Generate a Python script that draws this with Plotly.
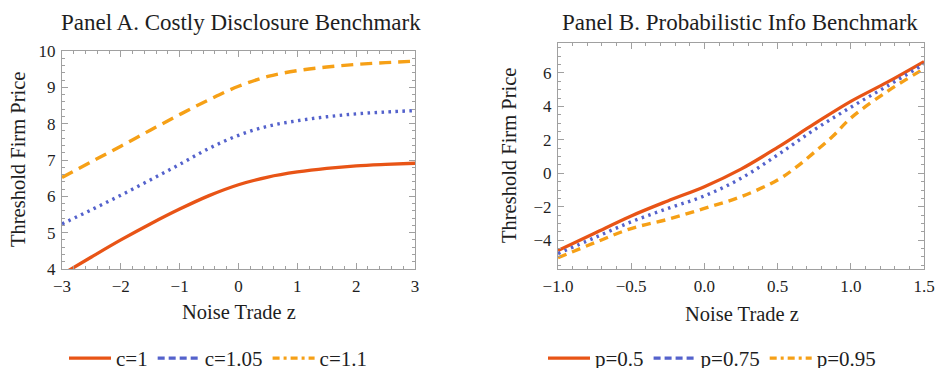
import plotly.graph_objects as go

# ---------------- data ----------------
# Panel A: Costly Disclosure Benchmark
z_a = [-3, -2.5, -2, -1.5, -1, -0.5, 0, 0.5, 1, 1.5, 2, 2.5, 3]
c_1 = [3.85, 4.33, 4.80, 5.24, 5.65, 6.02, 6.32, 6.53, 6.67, 6.77, 6.84, 6.88, 6.91]
c_105 = [5.24, 5.63, 6.03, 6.45, 6.88, 7.32, 7.68, 7.93, 8.08, 8.19, 8.27, 8.32, 8.36]
c_11 = [6.52, 6.95, 7.38, 7.82, 8.25, 8.66, 9.03, 9.30, 9.46, 9.56, 9.63, 9.68, 9.72]

# Panel B: Probabilistic Info Benchmark
z_b = [-1, -0.75, -0.5, -0.25, 0, 0.25, 0.5, 0.75, 1, 1.25, 1.5]
p_05 = [-4.62, -3.58, -2.55, -1.65, -0.80, 0.25, 1.55, 2.95, 4.30, 5.45, 6.68]
p_075 = [-4.80, -3.85, -2.90, -2.10, -1.35, -0.30, 1.10, 2.60, 3.95, 5.22, 6.52]
z_b95 = [-1, -0.75, -0.5, -0.25, 0, 0.25, 0.5, 0.625, 0.75, 0.875, 1, 1.25, 1.5]
p_095 = [-5.05, -4.15, -3.30, -2.75, -2.10, -1.40, -0.40, 0.35, 1.25, 2.20, 3.30, 4.90, 6.25]

labels_a = ["c=1", "c=1.05", "c=1.1"]
labels_b = ["p=0.5", "p=0.75", "p=0.95"]

RED = "rgb(232,84,22)"
BLUE = "rgb(84,98,204)"
ORANGE = "rgb(246,160,22)"
FONT = "'Liberation Serif', 'Times New Roman', Times, serif"
FRAME = "rgb(160,160,160)"
TXT = "#1e1e1e"
W, H = 937, 368

fig = go.Figure()

# ---- Panel A curves ----
fig.add_trace(go.Scatter(x=z_a, y=c_1, mode="lines", line=dict(color=RED, width=3.3, shape="spline"),
                         xaxis="x", yaxis="y", showlegend=False))
fig.add_trace(go.Scatter(x=z_a, y=c_105, mode="lines", line=dict(color=BLUE, width=3.4, dash="2.5px,4.5px", shape="spline"),
                         xaxis="x", yaxis="y", showlegend=False))
fig.add_trace(go.Scatter(x=z_a, y=c_11, mode="lines", line=dict(color=ORANGE, width=3.4, dash="12px,7px", shape="spline"),
                         xaxis="x", yaxis="y", showlegend=False))
# ---- Panel A legend entries ----
legdash = ["solid", "7px,4px", "7px,4px,3px,4px"]
for lab, col, d in zip(labels_a, [RED, BLUE, ORANGE], legdash):
    fig.add_trace(go.Scatter(x=[None], y=[None], mode="lines", name=lab,
                             line=dict(color=col, width=3.3, dash=d),
                             xaxis="x", yaxis="y", legend="legend"))

# ---- Panel B curves ----
fig.add_trace(go.Scatter(x=z_b, y=p_05, mode="lines", line=dict(color=RED, width=3.3, shape="spline"),
                         xaxis="x2", yaxis="y2", showlegend=False))
fig.add_trace(go.Scatter(x=z_b, y=p_075, mode="lines", line=dict(color=BLUE, width=3.4, dash="2.5px,4.5px", shape="spline"),
                         xaxis="x2", yaxis="y2", showlegend=False))
fig.add_trace(go.Scatter(x=z_b95, y=p_095, mode="lines", line=dict(color=ORANGE, width=3.4, dash="9px,6px", shape="spline"),
                         xaxis="x2", yaxis="y2", showlegend=False))
for lab, col, d in zip(labels_b, [RED, BLUE, ORANGE], legdash):
    fig.add_trace(go.Scatter(x=[None], y=[None], mode="lines", name=lab,
                             line=dict(color=col, width=3.3, dash=d),
                             xaxis="x2", yaxis="y2", legend="legend2"))

tickfont = dict(family=FONT, size=17, color=TXT)
common = dict(showgrid=False, zeroline=False, showline=True, linecolor=FRAME, linewidth=1,
              mirror="allticks", ticks="inside", ticklen=6, tickcolor=FRAME, tickwidth=1,
              tickfont=tickfont, fixedrange=True, ticklabelstandoff=2)

legfont = dict(family=FONT, size=21, color=TXT)
fig.update_layout(
    width=W, height=H,
    margin=dict(l=0, r=0, t=0, b=0, autoexpand=False),
    paper_bgcolor="white", plot_bgcolor="white",
    font=dict(family=FONT, color=TXT),
    xaxis=dict(domain=[62 / W, 415 / W], range=[-3, 3], tickvals=[-3, -2, -1, 0, 1, 2, 3],
               minor=dict(ticks="inside", ticklen=3, tickcolor=FRAME, dtick=0.2, showgrid=False),
               anchor="y", **common),
    yaxis=dict(domain=[1 - 269 / H, 1 - 51 / H], range=[4, 10], tickvals=[4, 5, 6, 7, 8, 9, 10],
               minor=dict(ticks="inside", ticklen=3, tickcolor=FRAME, dtick=0.2, showgrid=False),
               anchor="x", **common),
    xaxis2=dict(domain=[558 / W, 924 / W], range=[-1, 1.5], tickvals=[-1, -0.5, 0, 0.5, 1, 1.5],
                tickformat=".1f",
                minor=dict(ticks="inside", ticklen=3, tickcolor=FRAME, dtick=0.1, showgrid=False),
                anchor="y2", **common),
    yaxis2=dict(domain=[1 - 269 / H, 1 - 43 / H], range=[-5.72, 7.79], tickvals=[-4, -2, 0, 2, 4, 6],
                minor=dict(ticks="inside", ticklen=3, tickcolor=FRAME, tick0=0, dtick=0.5, showgrid=False),
                anchor="x2", **common),
    legend=dict(orientation="h", x=64 / W, y=1 - 338 / H, xanchor="left", yanchor="top",
                font=legfont, bgcolor="rgba(0,0,0,0)", itemwidth=42),
    legend2=dict(orientation="h", x=543 / W, y=1 - 338 / H, xanchor="left", yanchor="top",
                 font=legfont, bgcolor="rgba(0,0,0,0)", itemwidth=42),
    showlegend=True,
)

ann = [
    dict(text="Panel A. Costly Disclosure Benchmark", x=241 / W, y=1 - 22 / H, size=23, angle=0),
    dict(text="Panel B. Probabilistic Info Benchmark", x=740 / W, y=1 - 22 / H, size=23, angle=0),
    dict(text="Threshold Firm Price", x=18 / W, y=1 - 160 / H, size=20.5, angle=-90),
    dict(text="Threshold Firm Price", x=509 / W, y=1 - 156 / H, size=20.5, angle=-90),
    dict(text="Noise Trade z", x=239 / W, y=1 - 312 / H, size=20.5, angle=0),
    dict(text="Noise Trade z", x=742 / W, y=1 - 314 / H, size=20.5, angle=0),
]
for a in ann:
    fig.add_annotation(text=a["text"], x=a["x"], y=a["y"], xref="paper", yref="paper",
                       xanchor="center", yanchor="middle", showarrow=False, textangle=a["angle"],
                       font=dict(family=FONT, size=a["size"], color=TXT))

fig.write_html("out.html")
